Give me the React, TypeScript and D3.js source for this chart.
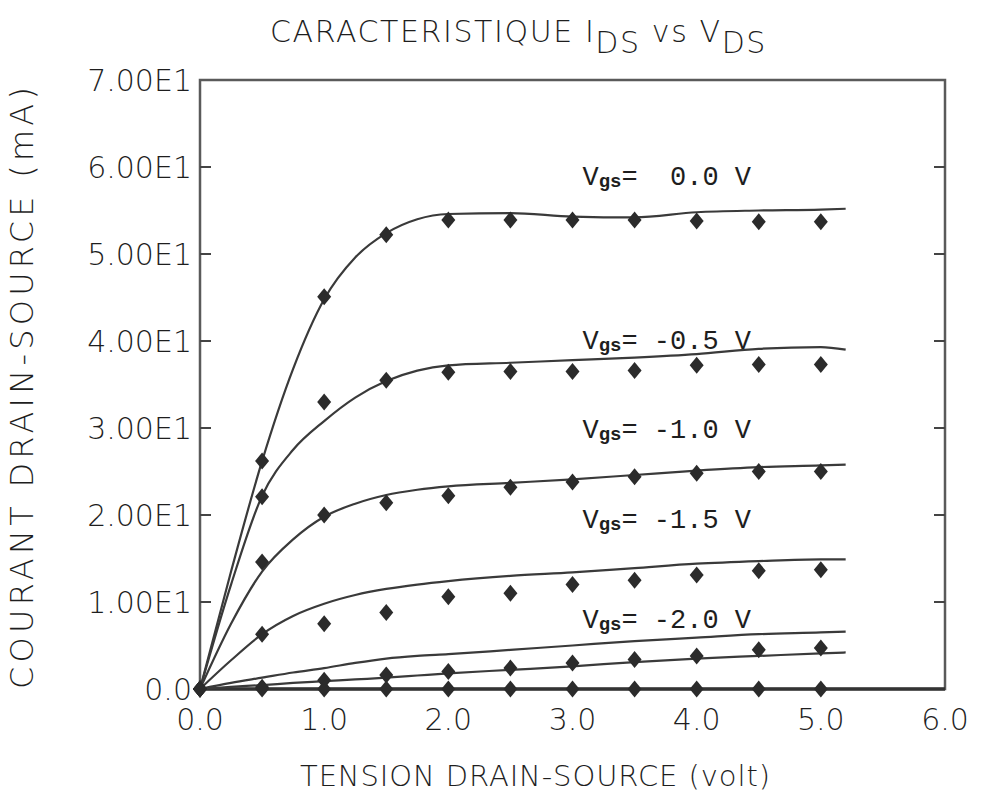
import * as d3 from 'd3';

// measured points (diamonds), x in volts
const measX = [0, 0.5, 1.0, 1.5, 2.0, 2.5, 3.0, 3.5, 4.0, 4.5, 5.0];
const meas00 = [0, 26.2, 45.1, 52.2, 53.9, 53.9, 53.9, 53.9, 53.8, 53.7, 53.7];
const meas05 = [0, 22.1, 33.0, 35.5, 36.4, 36.5, 36.5, 36.6, 37.2, 37.3, 37.3];
const meas10 = [0, 14.6, 20.0, 21.4, 22.2, 23.2, 23.8, 24.4, 24.8, 25.0, 25.0];
const meas15 = [0, 6.3, 7.5, 8.8, 10.6, 11.0, 12.0, 12.5, 13.1, 13.6, 13.7];
const meas20a = [0, 0.2, 1.0, 1.6, 2.0, 2.4, 3.0, 3.4, 3.8, 4.5, 4.7];
const meas20b = [0, 0, 0, 0, 0, 0, 0, 0, 0, 0, 0];

// simulated curves
const modelX = [0, 0.25, 0.5, 0.75, 1.0, 1.25, 1.5, 1.75, 2.0, 2.5, 3.0, 3.5, 4.0, 4.5, 5.0, 5.2];
const model00 = [0, 13.5, 26.2, 36.8, 44.8, 49.6, 52.4, 54.0, 54.6, 54.7, 54.3, 54.2, 54.8, 55.0, 55.1, 55.2];
const model05 = [0, 12.0, 22.2, 27.5, 30.8, 33.5, 35.4, 36.6, 37.2, 37.5, 37.8, 38.1, 38.5, 39.1, 39.3, 39.0];
const model10 = [0, 7.5, 13.5, 17.2, 19.8, 21.3, 22.3, 22.9, 23.3, 23.7, 24.1, 24.6, 25.1, 25.5, 25.7, 25.8];
const model15 = [0, 3.3, 6.3, 8.4, 9.8, 10.8, 11.5, 12.0, 12.4, 13.0, 13.4, 13.9, 14.4, 14.7, 14.9, 14.9];
const model20a = [0, 0.7, 1.3, 1.9, 2.4, 3.0, 3.5, 3.8, 4.0, 4.5, 5.0, 5.5, 5.9, 6.3, 6.5, 6.6];
const model20b = [0, 0.25, 0.45, 0.7, 0.9, 1.1, 1.3, 1.55, 1.8, 2.2, 2.6, 3.1, 3.5, 3.8, 4.1, 4.2];

const vgsLabels = ['  0.0', ' -0.5', ' -1.0', ' -1.5', ' -2.0'];
const yTickLabels = ['0.0', '1.00E1', '2.00E1', '3.00E1', '4.00E1', '5.00E1', '6.00E1', '7.00E1'];
const xTickLabels = ['0.0', '1.0', '2.0', '3.0', '4.0', '5.0', '6.0'];

const measured = [meas00, meas05, meas10, meas15, meas20a, meas20b];
const models = [model00, model05, model10, model15, model20a, model20b];

export default function App() {
  const width = 987;
  const height = 799;
  const x = d3.scaleLinear().domain([0, 6]).range([200, 945]);
  const y = d3.scaleLinear().domain([0, 70]).range([689, 80]);

  const line = d3
    .line<number>()
    .x((_, i) => x(modelX[i]))
    .y((d) => y(d))
    .curve(d3.curveMonotoneX);

  // label anchor, in data units (volts, mA)
  const labelVolt = 3.08;
  const labelAmp = [57.9, 39.1, 28.9, 18.5, 7.0];

  const diamond = 'M0,-8.5L7,0L0,8.5L-7,0Z';
  const font = '"DejaVu Sans", sans-serif';
  const ink = '#1e1e1e';
  const weight = 200;

  return (
    <svg width={width} height={height} style={{ position: 'absolute', left: 0, top: 0, background: '#fff' }}>
      {/* title */}
      <text x={270} y={42} fontFamily={font} fontWeight={weight} fontSize={30} fill={ink} letterSpacing={1.6}>
        <tspan>CARACTERISTIQUE I</tspan>
        <tspan dy={11}>DS</tspan>
        <tspan dy={-11}> vs </tspan>
        <tspan>V</tspan>
        <tspan dy={11}>DS</tspan>
      </text>

      {/* frame */}
      <rect x={x(0)} y={y(70)} width={x(6) - x(0)} height={y(0) - y(70)} fill="none" stroke="#5a5a5a" strokeWidth={2.5} />

      {/* y ticks inside both sides */}
      {yTickLabels.map((_, i) =>
        i > 0 && i < 7 ? (
          <g key={'yt' + i} stroke="#444" strokeWidth={2}>
            <line x1={x(0)} x2={x(0) + 11} y1={y(i * 10)} y2={y(i * 10)} />
            <line x1={x(6) - 11} x2={x(6)} y1={y(i * 10)} y2={y(i * 10)} />
          </g>
        ) : null
      )}

      {/* y tick labels */}
      {yTickLabels.map((t, i) => (
        <text key={'yl' + i} x={192} y={y(i * 10) + 11} textAnchor="end" fontFamily={font} fontWeight={weight} fontSize={30} fill={ink}>
          {t}
        </text>
      ))}

      {/* x tick labels */}
      {xTickLabels.map((t, i) => (
        <text key={'xl' + i} x={x(i)} y={730} textAnchor="middle" fontFamily={font} fontWeight={weight} fontSize={30} fill={ink}>
          {t}
        </text>
      ))}

      {/* axis titles */}
      <text x={535} y={786} textAnchor="middle" fontFamily={font} fontWeight={weight} fontSize={29} fill={ink} textLength={470} lengthAdjust="spacing">
        TENSION DRAIN-SOURCE (volt)
      </text>
      <text
        transform="translate(33,388) rotate(-90)"
        textAnchor="middle"
        fontFamily={font}
        fontWeight={weight}
        fontSize={32}
        fill={ink}
        textLength={602}
        lengthAdjust="spacing"
      >
        COURANT DRAIN-SOURCE (mA)
      </text>

      {/* zero line */}
      <line x1={x(0)} x2={x(6)} y1={y(0)} y2={y(0)} stroke="#333" strokeWidth={3.5} />

      {/* model curves */}
      {models.map((m, i) => (
        <path key={'m' + i} d={line(m) ?? ''} fill="none" stroke="#3a3a3a" strokeWidth={2.2} />
      ))}

      {/* measured diamonds */}
      {measured.map((s, si) =>
        s.map((v, i) => (
          <path key={'p' + si + '-' + i} d={diamond} transform={`translate(${x(measX[i])},${y(v)})`} fill="#2b2b2b" />
        ))
      )}

      {/* Vgs labels */}
      {vgsLabels.map((v, i) => (
        <text
          key={'vg' + i}
          x={x(labelVolt)}
          y={y(labelAmp[i])}
          fontFamily='"Liberation Mono", monospace'
          fontSize={27}
          fill={ink}
          style={{ whiteSpace: 'pre' }}
        >
          <tspan>V</tspan>
          <tspan fontSize={19} fontWeight="bold" dy={2}>gs</tspan>
          <tspan dy={-2}>={v} V</tspan>
        </text>
      ))}
    </svg>
  );
}
